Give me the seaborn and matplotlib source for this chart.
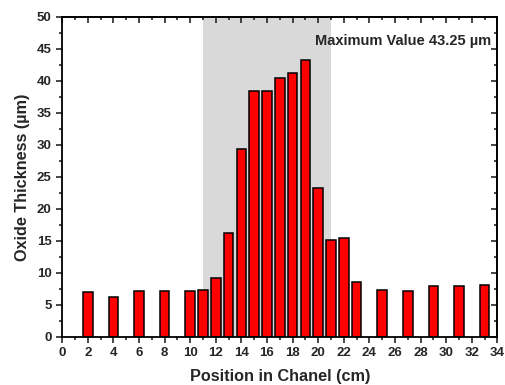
import matplotlib
matplotlib.use("Agg")
import matplotlib.pyplot as plt
import seaborn as sns
import pandas as pd
from matplotlib.ticker import MultipleLocator

positions = [2, 4, 6, 8, 10, 11, 12, 13, 14, 15, 16, 17, 18, 19, 20, 21, 22, 23,
             25, 27, 29, 31, 33]
thickness = [7.0, 6.2, 7.1, 7.1, 7.1, 7.3, 9.2, 16.3, 29.4, 38.4, 38.4, 40.5, 41.2,
             43.25, 23.2, 15.2, 15.4, 8.6, 7.3, 7.1, 8.0, 7.9, 8.1]
shade_start, shade_end = 11, 21
max_label = "Maximum Value 43.25 µm"

df = pd.DataFrame({"pos": positions, "thk": thickness})

sns.set_style("ticks")
plt.rcParams["font.family"] = ["Liberation Sans", "DejaVu Sans"]
plt.rcParams["font.weight"] = "bold"

fig = plt.figure(figsize=(5.05, 3.85), dpi=100)
ax = fig.add_axes([0.123, 0.125, 0.862, 0.831])

ax.axvspan(shade_start, shade_end, color="#d9d9d9", zorder=0, lw=0)
sns.barplot(data=df, x="pos", y="thk", native_scale=True, width=0.75,
            color="#ff0000", saturation=1, edgecolor="black", linewidth=1.1,
            ax=ax, zorder=2)

ax.set_xlim(0, 34)
ax.set_ylim(0, 50)
ax.xaxis.set_major_locator(MultipleLocator(2))
ax.xaxis.set_minor_locator(MultipleLocator(1))
ax.yaxis.set_major_locator(MultipleLocator(5))
ax.yaxis.set_minor_locator(MultipleLocator(2.5))

# left/bottom ticks outward, mirrored top/right ticks inward (Origin style)
ax.tick_params(which="both", direction="out", labelsize=9.5, width=1.2)
ax.tick_params(which="major", length=4)
ax.tick_params(which="minor", length=2.5)
top = ax.secondary_xaxis("top")
right = ax.secondary_yaxis("right")
for sec, axis in ((top, top.xaxis), (right, right.yaxis)):
    axis.set_major_locator(MultipleLocator(2 if sec is top else 5))
    axis.set_minor_locator(MultipleLocator(1 if sec is top else 2.5))
    sec.tick_params(which="both", direction="in", width=1.2,
                    labeltop=False, labelright=False)
    sec.tick_params(which="major", length=4)
    sec.tick_params(which="minor", length=2.5)
    for side in sec.spines.values():
        side.set_linewidth(1.3)
for lab in ax.get_xticklabels() + ax.get_yticklabels():
    lab.set_fontweight("bold")

for side in ax.spines.values():
    side.set_linewidth(1.3)
    side.set_color("black")

ax.set_xlabel("Position in Chanel (cm)", fontsize=11.7, fontweight="bold", labelpad=7)
ax.set_ylabel("Oxide Thickness (µm)", fontsize=11.7, fontweight="bold", labelpad=5)

ax.text(0.985, 0.925, max_label, transform=ax.transAxes, ha="right", va="center",
        fontsize=10.5, fontweight="bold")

fig.savefig("out.png", dpi=100)
